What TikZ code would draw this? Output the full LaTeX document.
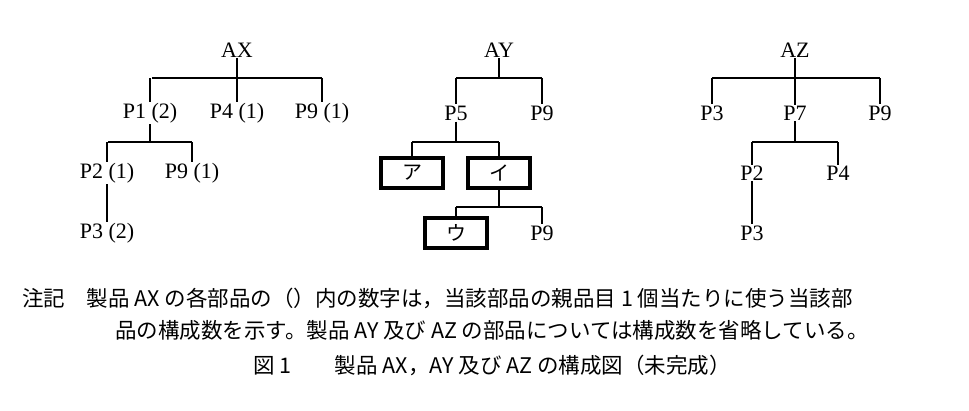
\documentclass[tikz,border=0pt]{standalone}
\usepackage{fontspec}
\setmainfont{Liberation Serif}
\newfontfamily\jfont{Noto Sans CJK JP}
\tikzset{
  part/.style={inner sep=1pt, font=\fontsize{22}{24}\selectfont},
  blank/.style={draw, line width=3.6pt, minimum width=62pt, minimum height=30pt, font=\jfont\fontsize{20}{24}\selectfont},
  tree/.style={line width=1.4pt},
  note/.style={font=\jfont\fontsize{21.5}{24}\selectfont}
}
% \branch{parent}{bar y}{child,...}
\newcommand{\branch}[3]{%
  \draw[tree] (#1.south) -- (#1.south |- 0,#2);
  \foreach \c in {#3}{\draw[tree] (\c.north |- 0,#2) -- (\c.north);}
}
\begin{document}
\begin{tikzpicture}[x=1pt, y=-1pt]
\useasboundingbox (0,0) rectangle (969,410);
% AX
\node[part] (ax) at (237,50) {AX};
\node[part] (p1) at (150,113) {P1 (2)};
\node[part] (p4) at (237,113) {P4 (1)};
\node[part] (p9a) at (322,113) {P9 (1)};
\node[part] (p2) at (107,173) {P2 (1)};
\node[part] (p9b) at (192,173) {P9 (1)};
\node[part] (p3) at (107,233) {P3 (2)};
\draw[tree] (152,78) -- (322,78);
\branch{ax}{78}{p1,p4,p9a}
\draw[tree] (108,142) -- (192,142);
\branch{p1}{142}{p2,p9b}
\draw[tree] (p2) -- (p3);
% AY
\node[part] (ay) at (499,50) {AY};
\node[part] (p5) at (456,113) {P5};
\node[part] (p9c) at (542,113) {P9};
\node[blank] (a) at (412,173) {ア};
\node[blank] (i) at (499,173) {イ};
\node[blank] (u) at (456,233) {ウ};
\node[part] (p9d) at (542,233) {P9};
\draw[tree] (456,78) -- (542,78);
\branch{ay}{78}{p5,p9c}
\draw[tree] (412,142) -- (499,142);
\branch{p5}{142}{a,i}
\draw[tree] (456,207) -- (542,207);
\branch{i}{207}{u,p9d}
% AZ
\node[part] (az) at (795,50) {AZ};
\node[part] (p3b) at (712,113) {P3};
\node[part] (p7) at (795,113) {P7};
\node[part] (p9e) at (880,113) {P9};
\node[part] (p2b) at (752,173) {P2};
\node[part] (p4b) at (838,173) {P4};
\node[part] (p3c) at (752,233) {P3};
\draw[tree] (712,78) -- (880,78);
\branch{az}{78}{p3b,p7,p9e}
\draw[tree] (752,142) -- (838,142);
\branch{p7}{142}{p2b,p4b}
\draw[tree] (p2b) -- (p3c);
% caption
\node[note, anchor=west, inner sep=0pt] (n1) at (22,298) {注記\quad 製品 AX の各部品の（）内の数字は，当該部品の親品目 1 個当たりに使う当該部};
\node[note] (n2) at (492,330) {品の構成数を示す。製品 AY 及び AZ の部品については構成数を省略している。};
\node[note, inner sep=0pt] (cap) at (492,365) {図 1\qquad 製品 AX，AY 及び AZ の構成図（未完成）};
\end{tikzpicture}
\end{document}
